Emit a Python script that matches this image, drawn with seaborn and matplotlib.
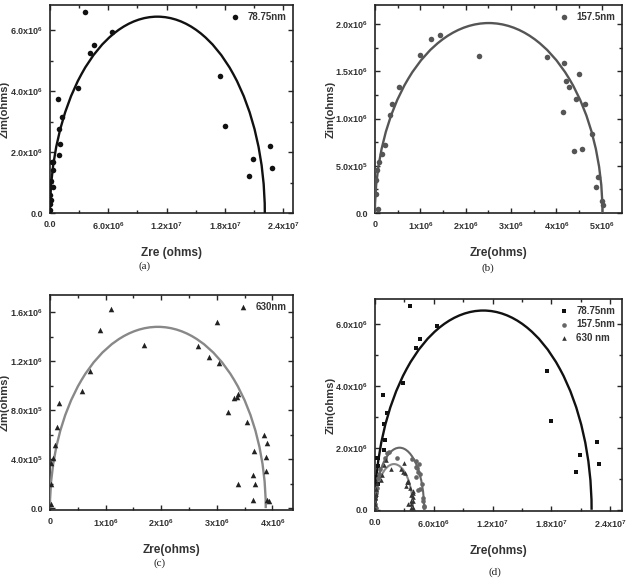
import numpy as np
import pandas as pd
import matplotlib
matplotlib.use('Agg')
import matplotlib.pyplot as plt
from matplotlib.patches import Arc
from matplotlib.ticker import AutoMinorLocator
import seaborn as sns

#======================================================================================
# Data
# (a) 78.75nm
a_zre = [3.57e6, 6.38e6, 4.56e6, 4.15e6, 2.88e6, 0.86e6, 1.27e6, 0.93e6, 1.06e6, 0.89e6,
         0.17e6, 0.34e6, 0.34e6, 0.10e6, 0.27e6, 0.07e6, 0.03e6, 0.02e6, 0.02e6,
         1.752e7, 1.80e7, 2.266e7, 2.283e7, 2.088e7, 2.047e7]
a_zim = [6.59e6, 5.95e6, 5.53e6, 5.25e6, 4.10e6, 3.73e6, 3.14e6, 2.77e6, 2.27e6, 1.92e6,
         1.67e6, 1.67e6, 1.42e6, 1.06e6, 0.84e6, 0.44e6, 0.11e6, 0.60e6, 0.30e6,
         4.50e6, 2.86e6, 2.19e6, 1.48e6, 1.77e6, 1.23e6]

# (b) 157.5nm
b_zre = [1.23e6, 1.436e6, 0.987e6, 2.30e6, 0.53e6, 0.368e6, 0.339e6, 0.228e6, 0.155e6, 0.088e6,
         0.037e6, 0.022e6, 0.015e6, 0.06e6, 3.80e6, 4.168e6, 4.22e6, 4.286e6, 4.43e6, 4.51e6,
         4.63e6, 4.14e6, 4.79e6, 4.40e6, 4.57e6, 4.91e6, 4.875e6, 5.02e6, 5.03e6]
b_zim = [1.845e6, 1.88e6, 1.676e6, 1.665e6, 1.333e6, 1.157e6, 1.034e6, 0.716e6, 0.621e6, 0.54e6,
         0.459e6, 0.353e6, 0.20e6, 0.046e6, 1.647e6, 1.591e6, 1.397e6, 1.337e6, 1.21e6, 1.467e6,
         1.157e6, 1.065e6, 0.832e6, 0.656e6, 0.677e6, 0.381e6, 0.272e6, 0.123e6, 0.081e6]

# (c) 630nm
c_zre = [1.09e6, 0.90e6, 1.685e6, 0.72e6, 0.57e6, 0.168e6, 0.12e6, 0.09e6, 0.048e6, 0.012e6,
         0.01e6, 0.01e6, 3.0e6, 2.657e6, 2.855e6, 3.04e6, 3.316e6, 3.36e6, 3.39e6, 3.196e6,
         3.55e6, 3.84e6, 3.90e6, 3.676e6, 3.88e6, 3.88e6, 3.65e6, 3.39e6, 3.69e6, 3.646e6,
         3.90e6, 3.93e6]
c_zim = [1.624e6, 1.456e6, 1.334e6, 1.117e6, 0.957e6, 0.862e6, 0.662e6, 0.513e6, 0.412e6, 0.366e6,
         0.20e6, 0.03e6, 1.516e6, 1.326e6, 1.234e6, 1.188e6, 0.898e6, 0.908e6, 0.933e6, 0.784e6,
         0.70e6, 0.594e6, 0.529e6, 0.469e6, 0.42e6, 0.30e6, 0.271e6, 0.195e6, 0.198e6, 0.065e6,
         0.068e6, 0.062e6]

# Fitted semicircles: (centre, width, peak height)
a_fit = (1.105e7, 2.21e7, 6.45e6)
b_fit = (2.51e6, 5.02e6, 2.01e6)
c_fit = (1.94e6, 3.88e6, 1.48e6)

# Ticks
big_xticks = [0, 6e6, 1.2e7, 1.8e7, 2.4e7]
big_xlabels = ['0.0', '6.0x10$^{6}$', '1.2x10$^{7}$', '1.8x10$^{7}$', '2.4x10$^{7}$']
big_yticks = [0, 2e6, 4e6, 6e6]
big_ylabels = ['0.0', '2.0x10$^{6}$', '4.0x10$^{6}$', '6.0x10$^{6}$']
b_xticks = [0, 1e6, 2e6, 3e6, 4e6, 5e6]
b_xlabels = ['0', '1x10$^{6}$', '2x10$^{6}$', '3x10$^{6}$', '4x10$^{6}$', '5x10$^{6}$']
b_yticks = [0, 5e5, 1e6, 1.5e6, 2e6]
b_ylabels = ['0.0', '5.0x10$^{5}$', '1.0x10$^{6}$', '1.5x10$^{6}$', '2.0x10$^{6}$']
c_xticks = [0, 1e6, 2e6, 3e6, 4e6]
c_xlabels = ['0', '1x10$^{6}$', '2x10$^{6}$', '3x10$^{6}$', '4x10$^{6}$']
c_yticks = [0, 4e5, 8e5, 1.2e6, 1.6e6]
c_ylabels = ['0.0', '4.0x10$^{5}$', '8.0x10$^{5}$', '1.2x10$^{6}$', '1.6x10$^{6}$']

#======================================================================================
sns.set_style('ticks')
plt.rcParams['font.family'] = ['Liberation Sans', 'DejaVu Sans']
plt.rcParams['mathtext.fontset'] = 'custom'
plt.rcParams['mathtext.rm'] = 'Liberation Sans:bold'
plt.rcParams['mathtext.it'] = 'Liberation Sans:bold'
plt.rcParams['mathtext.bf'] = 'Liberation Sans:bold'

fig = plt.figure(figsize=(6.27, 5.79), dpi=100)
axA = fig.add_axes([0.0797, 0.632, 0.3876, 0.3592])
axB = fig.add_axes([0.598, 0.632, 0.394, 0.3592])
axC = fig.add_axes([0.0797, 0.1192, 0.3876, 0.3713])
axD = fig.add_axes([0.598, 0.1174, 0.394, 0.366])


def style(ax, xticks, xlabels, yticks, ylabels, xlim, ylim, xlab, lx, ly):
    ax.set_xlim(xlim)
    ax.set_ylim(ylim)
    ax.set_xticks(xticks)
    ax.set_xticklabels(xlabels)
    ax.set_yticks(yticks)
    ax.set_yticklabels(ylabels)
    ax.xaxis.set_minor_locator(AutoMinorLocator(2))
    ax.yaxis.set_minor_locator(AutoMinorLocator(2))
    ax.tick_params(which='both', direction='in', top=True, right=True, width=1.0,
                   labelsize=6.5, pad=5)
    ax.tick_params(which='major', length=3.5)
    ax.tick_params(which='minor', length=2)
    for lab in ax.get_xticklabels() + ax.get_yticklabels():
        lab.set_fontweight('bold')
        lab.set_color('#333333')
    for sp in ax.spines.values():
        sp.set_linewidth(1.2)
        sp.set_color('#222222')
        sp.set_visible(True)
    ax.set_xlabel(xlab, fontsize=8.5, fontweight='bold', color='#333333')
    ax.set_ylabel('Zim(ohms)', fontsize=8, fontweight='bold', color='#333333')
    ax.xaxis.set_label_coords(0.5, ly)
    ax.yaxis.set_label_coords(lx, 0.5)


def fit_arc(ax, fit, color, lw):
    cx, w, h = fit
    ax.add_patch(Arc((cx, 0), w, 2 * h, theta1=0, theta2=180, color=color, lw=lw, zorder=3))


legend_kw = dict(loc='upper right', frameon=False, handletextpad=0.3, borderaxespad=0.3,
                 labelspacing=0.35, prop={'weight': 'bold', 'size': 7}, labelcolor='#333333')

# (a)
sns.scatterplot(x=a_zre, y=a_zim, ax=axA, color='#111111', marker='o', s=16, linewidth=0,
                label='78.75nm', zorder=4)
fit_arc(axA, a_fit, '#111111', 1.7)
style(axA, big_xticks, big_xlabels, big_yticks, big_ylabels, (0, 2.5e7), (0, 6.83e6),
      'Zre (ohms)', -0.165, -0.165)
axA.legend(**legend_kw)

# (b)
sns.scatterplot(x=b_zre, y=b_zim, ax=axB, color='#555555', marker='o', s=16, linewidth=0,
                label='157.5nm', zorder=4)
fit_arc(axB, b_fit, '#555555', 1.7)
style(axB, b_xticks, b_xlabels, b_yticks, b_ylabels, (0, 5.45e6), (0, 2.2e6),
      'Zre(ohms)', -0.16, -0.165)
axB.legend(**legend_kw)

# (c)
sns.scatterplot(x=c_zre, y=c_zim, ax=axC, color='#222222', marker='^', s=16, linewidth=0,
                label='630nm', zorder=4)
fit_arc(axC, c_fit, '#888888', 1.7)
style(axC, c_xticks, c_xlabels, c_yticks, c_ylabels, (0, 4.37e6), (-1.5e4, 1.74e6),
      'Zre(ohms)', -0.165, -0.16)
axC.legend(**legend_kw)

# (d) all together
sns.scatterplot(x=a_zre, y=a_zim, ax=axD, color='#111111', marker='s', s=10, linewidth=0,
                label='78.75nm', zorder=4)
sns.scatterplot(x=b_zre, y=b_zim, ax=axD, color='#666666', marker='o', s=11, linewidth=0,
                label='157.5nm', zorder=4)
sns.scatterplot(x=c_zre, y=c_zim, ax=axD, color='#333333', marker='^', s=11, linewidth=0,
                label='630 nm', zorder=4)
fit_arc(axD, a_fit, '#111111', 1.7)
fit_arc(axD, b_fit, '#666666', 1.5)
fit_arc(axD, c_fit, '#888888', 1.5)
style(axD, big_xticks, big_xlabels, big_yticks, big_ylabels, (0, 2.52e7), (-4e4, 6.82e6),
      'Zre(ohms)', -0.16, -0.16)
axD.legend(**legend_kw)

# Panel captions
for x, y, s in [(145, 266, '(a)'), (488, 268, '(b)'), (160, 563, '(c)'), (495, 572, '(d)')]:
    fig.text(x / 627, 1 - y / 579, s, ha='center', va='center', fontsize=8,
             family='Liberation Serif', color='#222222')

fig.savefig('out.png', dpi=100)
